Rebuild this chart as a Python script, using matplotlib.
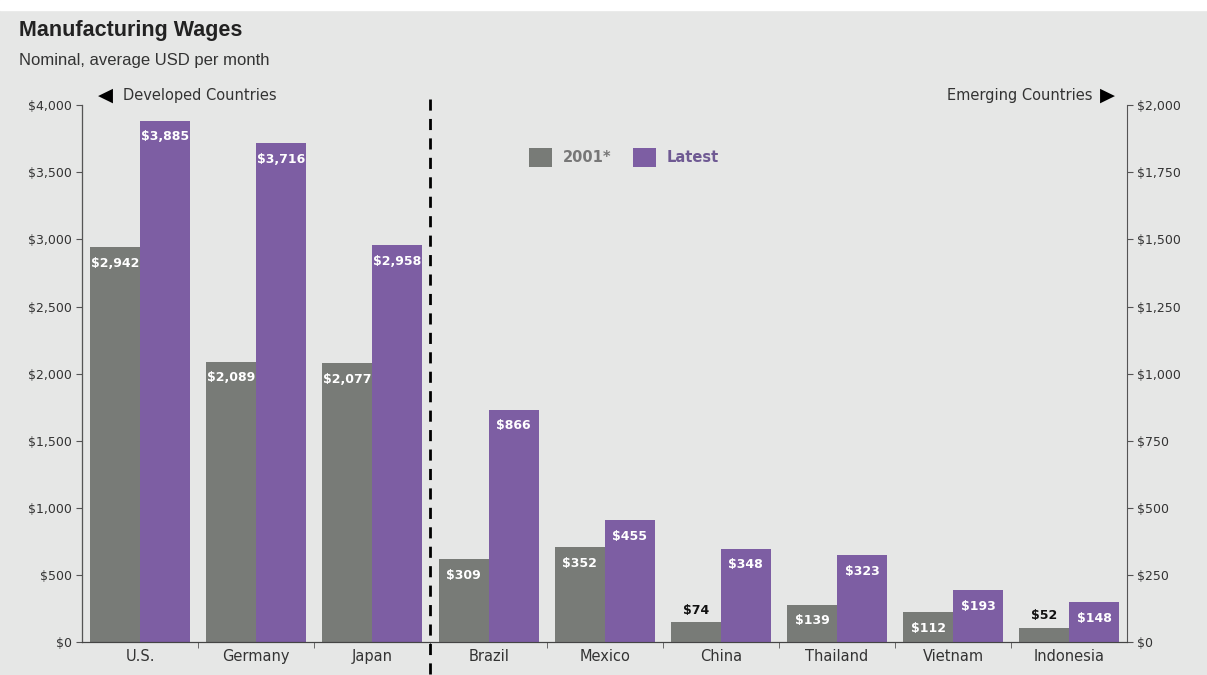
import numpy as np
import matplotlib
matplotlib.use('Agg')
import matplotlib.pyplot as plt

plt.rcParams['font.family'] = ['DejaVu Sans']

# ── data ──────────────────────────────────────────────────────────────────────
developed = ["U.S.", "Germany", "Japan"]
dev_2001 = [2942, 2089, 2077]
dev_latest = [3885, 3716, 2958]

emerging = ["Brazil", "Mexico", "China", "Thailand", "Vietnam", "Indonesia"]
emg_2001 = [309, 352, 74, 139, 112, 52]
emg_latest = [866, 455, 348, 323, 193, 148]

left_ticks = [0, 500, 1000, 1500, 2000, 2500, 3000, 3500, 4000]
right_ticks = [0, 250, 500, 750, 1000, 1250, 1500, 1750, 2000]

GREY = '#787b77'
PURPLE = '#7d5ea3'
BG = '#e6e7e6'
TXT = '#333333'

# ── figure ────────────────────────────────────────────────────────────────────
fig = plt.figure(figsize=(12.07, 6.75), dpi=100, facecolor=BG)
fig.patches.append(plt.Rectangle((0, 0.985), 1, 0.015, transform=fig.transFigure,
                                 color='white', zorder=0))
ax = fig.add_axes([0.068, 0.049, 0.866, 0.795])
ax.set_facecolor(BG)
ax2 = ax.twinx()

w = 0.43
xd = np.arange(len(developed))
xe = np.arange(len(emerging)) + len(developed)

ax.bar(xd - w / 2, dev_2001, w, color=GREY, label='2001*')
ax.bar(xd + w / 2, dev_latest, w, color=PURPLE, label='Latest')
ax2.bar(xe - w / 2, emg_2001, w, color=GREY)
ax2.bar(xe + w / 2, emg_latest, w, color=PURPLE)


def label(a, x, v, small_limit):
    if v < small_limit:
        a.annotate(f"${v:,}", (x, v), xytext=(0, 4), textcoords='offset points',
                   ha='center', va='bottom', fontsize=9, fontweight='bold', color='#111111')
    else:
        a.annotate(f"${v:,}", (x, v), xytext=(0, -7), textcoords='offset points',
                   ha='center', va='top', fontsize=9, fontweight='bold', color='white')


for x, a, b in zip(xd, dev_2001, dev_latest):
    label(ax, x - w / 2, a, 200)
    label(ax, x + w / 2, b, 200)
for x, a, b in zip(xe, emg_2001, emg_latest):
    label(ax2, x - w / 2, a, 100)
    label(ax2, x + w / 2, b, 100)

n = len(developed) + len(emerging)
ax.set_xlim(-0.5, n - 0.5)
ax.set_ylim(0, 4000)
ax2.set_ylim(0, 2000)

ax.set_yticks(left_ticks)
ax.set_yticklabels([f"${t:,}" for t in left_ticks], fontsize=9, color=TXT)
ax2.set_yticks(right_ticks)
ax2.set_yticklabels([f"${t:,}" for t in right_ticks], fontsize=9, color=TXT)

ax.set_xticks(np.arange(n))
ax.set_xticklabels(developed + emerging, fontsize=10.5, color=TXT)
ax.tick_params(axis='x', length=0, pad=5)
ax.set_xticks(np.arange(n - 1) + 0.5, minor=True)
ax.tick_params(axis='x', which='minor', length=4, color='#555555')
ax.tick_params(axis='y', length=4, color='#555555', pad=3)
ax2.tick_params(axis='y', length=4, color='#555555', pad=3)

for a in (ax, ax2):
    a.spines['top'].set_visible(False)
    a.spines['bottom'].set_color('#444444')
ax.spines['right'].set_visible(False)
ax2.spines['left'].set_color('#555555')
ax2.spines['right'].set_color('#555555')

# divider between developed and emerging
ax.plot([2.5, 2.5], [-0.06, 1.02], transform=ax.get_xaxis_transform(), color='black',
        linestyle=(0, (4, 3)), linewidth=2, clip_on=False)

# headers
fig.text(0.016, 0.955, "Manufacturing Wages", fontsize=15.5, fontweight='bold', color='#222222',
         va='center', family='Liberation Sans')
fig.text(0.016, 0.911, "Nominal, average USD per month", fontsize=12, color=TXT,
         va='center', family='Liberation Sans')
fig.text(0.081, 0.859, "\u25c0", fontsize=14, color='black', va='center')
fig.text(0.102, 0.859, "Developed Countries", fontsize=10.5, color=TXT, va='center')
fig.text(0.905, 0.859, "Emerging Countries", fontsize=10.5, color=TXT, va='center',
         ha='right')
fig.text(0.911, 0.859, "\u25b6", fontsize=14, color='black', va='center')

leg = ax.legend(loc='upper left', bbox_to_anchor=(0.415, 0.945), ncol=2, frameon=False,
                fontsize=10.5, handlelength=1.6, handleheight=1.6, columnspacing=1.5,
                handletextpad=0.7)
for t, c in zip(leg.get_texts(), ['#777777', '#6f5a93']):
    t.set_color(c)
    t.set_fontweight('bold')

fig.savefig('out.png', dpi=100, facecolor=BG)
